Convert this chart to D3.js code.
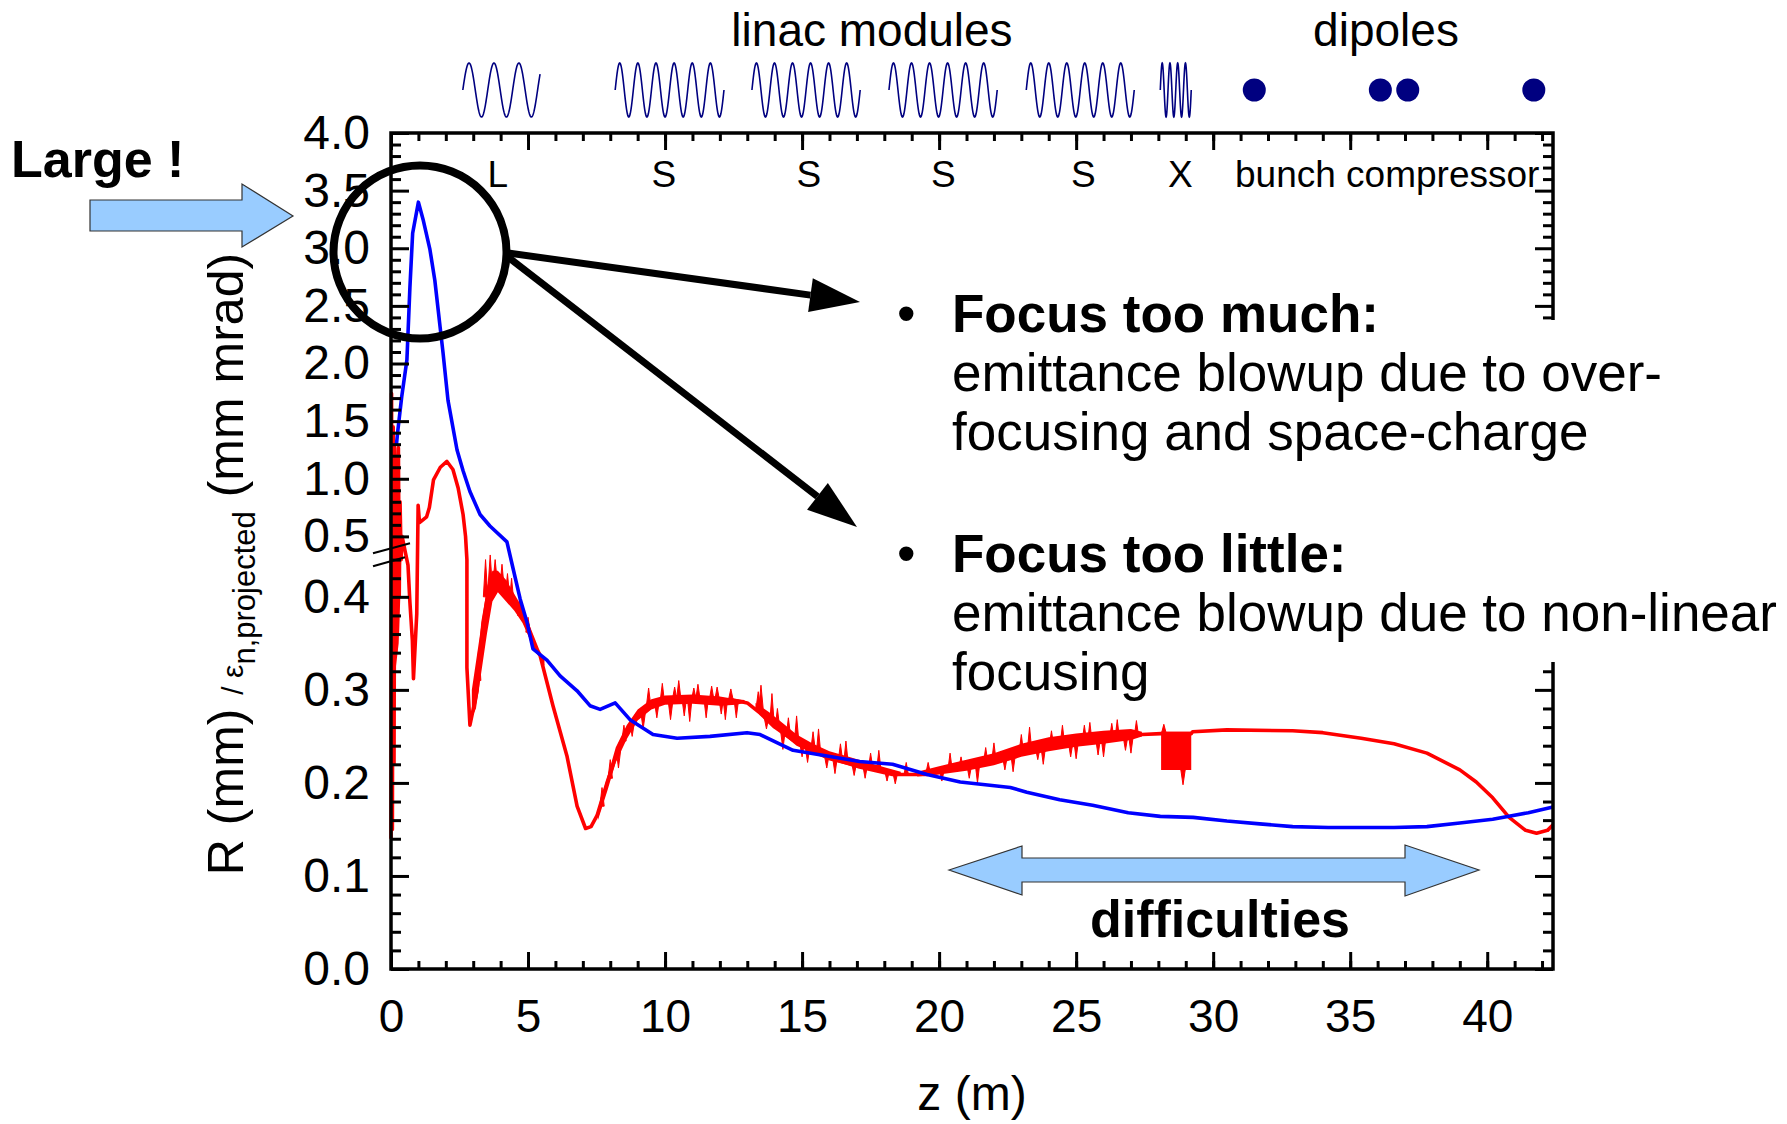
<!DOCTYPE html>
<html>
<head>
<meta charset="utf-8">
<script src="https://cdn.jsdelivr.net/npm/d3@7"></script>
<style>
  html, body { margin: 0; padding: 0; background: #fff; }
  svg { display: block; font-family: Arial, "Liberation Sans", sans-serif; }
</style>
</head>
<body>
<svg id="chart" width="1787" height="1124"></svg>
<script>
// ---- data -------------------------------------------------------------
// z positions (m) of the x ticks
const zMajorTicks = [0, 5, 10, 15, 20, 25, 30, 35, 40];
const zMinorTicks = d3.range(0, 43, 1);

// y ticks of the broken axis: lower part 0..0.45, upper part 0.5..4.0
const yMajorTicks = [0, 0.1, 0.2, 0.3, 0.4, 0.5, 1.0, 1.5, 2.0, 2.5, 3.0, 3.5, 4.0];
const yMinorTicks = [0.02,0.04,0.06,0.08,0.12,0.14,0.16,0.18,0.22,0.24,0.26,0.28,0.32,0.34,0.36,0.38,0.42,0.44,
                     0.6,0.7,0.8,0.9,1.1,1.2,1.3,1.4,1.6,1.7,1.8,1.9,2.1,2.2,2.3,2.4,2.6,2.7,2.8,2.9,3.1,3.2,3.3,3.4,3.6,3.7,3.8,3.9];

// beam size R (mm), blue  [z (m), value]
const blueR = [
  [0.20,1.30],[0.25,1.42],[0.39,1.71],[0.58,2.03],[0.69,2.66],[0.79,3.13],[1.00,3.40],[1.17,3.25],
  [1.42,2.99],[1.60,2.72],[1.79,2.32],[1.90,2.09],[2.08,1.68],[2.41,1.25],[2.63,1.07],[2.88,0.89],
  [3.25,0.69],[3.61,0.59],[4.23,0.459],[4.45,0.431],[4.71,0.398],[4.96,0.373],[5.18,0.344],[5.69,0.332],
  [6.17,0.315],[6.79,0.299],[7.26,0.283],[7.63,0.279],[8.18,0.286],[8.72,0.268],[9.56,0.252],[10.44,0.248],
  [11.64,0.250],[12.99,0.254],[13.47,0.252],[14.67,0.235],[17.10,0.223],[18.30,0.220],[19.56,0.209],
  [20.77,0.201],[22.60,0.195],[23.20,0.190],[24.40,0.182],[25.60,0.176],[26.90,0.168],[28.07,0.164],
  [29.27,0.163],[30.50,0.159],[31.70,0.156],[32.90,0.153],[34.20,0.152],[36.60,0.152],[37.80,0.153],
  [39.00,0.157],[40.20,0.161],[41.50,0.168],[42.40,0.174]
];

// projected normalised emittance (mm mrad), red  [z (m), value]
const redEmit = [
  [0.00,0.14],[0.02,1.74],[0.05,0.15],[0.08,1.45],[0.11,0.22],[0.14,1.20],[0.17,0.34],[0.20,1.00],
  [0.23,0.36],[0.27,1.27],[0.30,0.40],[0.33,0.80],[0.37,0.44],[0.40,0.50],[0.44,0.46],[0.62,0.434],
  [0.69,0.394],[0.78,0.353],[0.82,0.312],[0.94,0.382],[0.99,0.77],[1.04,0.62],[1.30,0.67],[1.40,0.75],
  [1.55,0.99],[1.80,1.10],[2.04,1.15],[2.26,1.08],[2.45,0.92],[2.63,0.69],[2.72,0.50],[2.77,0.44],
  [2.77,0.324],[2.88,0.262],[3.14,0.299],[3.36,0.373],[3.61,0.415],[3.98,0.418],[4.45,0.394],[4.96,0.373],
  [5.18,0.348],[5.44,0.337],[5.91,0.283],[6.42,0.229],[6.79,0.175],[7.10,0.151],[7.30,0.153],[7.52,0.165],
  [7.88,0.200],[8.36,0.242],[8.98,0.274],[9.80,0.287],[10.07,0.289],[11.30,0.290],[12.48,0.289],[13.00,0.286],
  [13.47,0.275],[14.00,0.260],[14.67,0.246],[15.90,0.228],[17.10,0.217],[18.30,0.209],[19.56,0.209],
  [20.77,0.216],[21.97,0.223],[23.20,0.235],[24.40,0.243],[25.60,0.245],[26.90,0.249],[27.40,0.252],
  [28.10,0.253],[29.20,0.253],[29.25,0.255],[30.50,0.257],[32.90,0.256],[34.00,0.254],[35.40,0.248],
  [36.60,0.242],[37.80,0.232],[39.00,0.214],[39.60,0.201],[40.20,0.184],[40.80,0.163],[41.40,0.149],
  [41.80,0.146],[42.20,0.149],[42.40,0.155]
];

// fast-oscillation envelope of the red trace  [z, low, high]
const redBand = [
  [0.00,0.14,1.60],[0.06,0.25,1.45],[0.12,0.31,1.35],[0.20,0.33,1.27],[0.28,0.35,0.95],[0.34,0.40,0.60],[0.37,0.44,0.50],
  null,
  [2.95,0.27,0.30],[3.10,0.28,0.33],[3.30,0.32,0.37],[3.50,0.36,0.41],[3.70,0.395,0.428],[3.90,0.405,0.428],
  [4.20,0.395,0.418],[4.50,0.385,0.403],[4.80,0.372,0.388],[5.10,0.352,0.366],[5.40,0.336,0.344],[5.60,0.326,0.332],
  null,
  [7.55,0.16,0.172],[7.90,0.192,0.207],[8.20,0.222,0.238],[8.60,0.247,0.262],[9.00,0.267,0.279],[9.50,0.279,0.290],
  [10.0,0.284,0.294],[11.0,0.285,0.295],[12.0,0.283,0.293],[12.6,0.284,0.290],[12.9,0.286,0.289],
  null,
  [13.3,0.278,0.286],[13.8,0.264,0.276],[14.3,0.252,0.264],[14.8,0.240,0.252],[15.4,0.232,0.242],[16.0,0.224,0.234],
  [16.7,0.219,0.228],[17.4,0.214,0.222],[18.1,0.210,0.216],[18.6,0.208,0.212],
  null,
  [19.2,0.207,0.212],[20.0,0.209,0.218],[21.0,0.213,0.225],[22.0,0.219,0.232],[23.0,0.228,0.242],[24.0,0.234,0.249],
  [25.0,0.239,0.253],[26.0,0.242,0.256],[27.0,0.246,0.258],[27.4,0.250,0.255],
  null,
  [28.10,0.214,0.255],[29.20,0.214,0.255]
];

// isolated spikes of the red trace  [z, base, tip]
const redSpikes = [
  [3.20,0.31,0.345],[3.45,0.40,0.44],[3.62,0.41,0.445],[3.80,0.415,0.44],[4.05,0.41,0.435],[4.25,0.40,0.425],
  [4.40,0.395,0.42],[4.70,0.38,0.40],[5.0,0.362,0.378],
  [7.7,0.175,0.195],[8.0,0.205,0.225],[8.3,0.235,0.216],[8.5,0.245,0.262],[8.8,0.265,0.25],[9.2,0.275,0.258],
  [9.4,0.283,0.302],[9.7,0.286,0.27],[9.9,0.287,0.307],[10.2,0.287,0.268],[10.35,0.29,0.303],[10.5,0.29,0.31],
  [10.7,0.29,0.272],[10.9,0.29,0.266],[11.05,0.29,0.302],[11.2,0.29,0.306],[11.5,0.29,0.27],[11.7,0.29,0.304],
  [11.9,0.29,0.303],[12.05,0.29,0.274],[12.2,0.29,0.268],[12.4,0.29,0.301],[12.6,0.289,0.27],
  [13.4,0.28,0.298],[13.5,0.28,0.305],[13.7,0.27,0.258],[13.9,0.265,0.296],[14.1,0.26,0.28],[14.3,0.255,0.236],
  [14.5,0.25,0.27],[14.8,0.245,0.272],[15.0,0.242,0.228],[15.2,0.238,0.222],[15.4,0.236,0.255],[15.6,0.232,0.258],
  [15.9,0.229,0.216],[16.2,0.226,0.21],[16.4,0.224,0.242],[16.6,0.222,0.245],[16.9,0.22,0.208],[17.3,0.218,0.205],
  [17.5,0.216,0.232],[17.8,0.214,0.235],[18.1,0.212,0.202],[18.4,0.21,0.199],[18.8,0.209,0.222],
  [19.6,0.211,0.222],[20.1,0.213,0.202],[20.4,0.214,0.232],[20.8,0.216,0.228],[21.1,0.218,0.205],[21.4,0.22,0.20],
  [21.7,0.222,0.238],[22.0,0.224,0.243],[22.4,0.227,0.214],[22.7,0.23,0.212],[23.0,0.233,0.252],[23.3,0.235,0.26],
  [23.6,0.237,0.225],[23.8,0.238,0.22],[24.1,0.24,0.256],[24.5,0.242,0.262],[24.8,0.243,0.228],[25.0,0.244,0.226],
  [25.3,0.245,0.262],[25.5,0.245,0.265],[25.8,0.246,0.23],[26.0,0.247,0.228],[26.3,0.248,0.264],[26.5,0.248,0.268],
  [26.8,0.249,0.235],[27.0,0.25,0.232],[27.2,0.25,0.267],[28.2,0.254,0.263],[28.9,0.214,0.198]
];

// beamline layout along z (m)
const linacModules = [
  { start: 2.62,  end: 5.44,  cycles: 3.1 },
  { start: 8.18,  end: 12.15, cycles: 6 },
  { start: 13.17, end: 17.12, cycles: 6 },
  { start: 18.17, end: 22.12, cycles: 6 },
  { start: 23.18, end: 27.12, cycles: 6 },
  { start: 28.07, end: 29.20, cycles: 4 }
];
const dipoleZ = [31.5, 36.1, 37.1, 41.7];
const sectionLabels = [
  { text: "L", z: 3.9 }, { text: "S", z: 9.96 }, { text: "S", z: 15.25 }, { text: "S", z: 20.15 },
  { text: "S", z: 25.26 }, { text: "X", z: 28.8 }, { text: "bunch compressor", z: 36.35 }
];

// ---- scales -----------------------------------------------------------
const svg = d3.select("#chart");
const x = d3.scaleLinear().domain([0, 42.4]).range([391, 1553]);
// piecewise scale: expanded lower part, compressed upper part
const y = d3.scaleLinear().domain([0, 0.46, 4.0]).range([969, 541, 133]);
const plotL = x.range()[0], plotR = x.range()[1], plotT = 133, plotB = 969;

const lightBlue = "#99ccff";
const navy = "#000080";

// ---- curves -----------------------------------------------------------
const lineGen = d3.line().x(d => x(d[0])).y(d => y(d[1]));

svg.append("path").datum(redBand)
  .attr("d", d3.area().defined(d => d).x(d => x(d[0])).y0(d => y(d[1])).y1(d => y(d[2])))
  .attr("fill", "#ff0000");

svg.append("g").selectAll("path").data(redSpikes).join("path")
  .attr("d", d => `M${x(d[0] - 0.08)},${y(d[1])}L${x(d[0])},${y(d[2])}L${x(d[0] + 0.08)},${y(d[1])}Z`)
  .attr("fill", "#ff0000").attr("stroke", "#ff0000").attr("stroke-width", 1);

svg.append("path").datum(redEmit).attr("d", lineGen)
  .attr("fill", "none").attr("stroke", "#ff0000").attr("stroke-width", 3.6).attr("stroke-linejoin", "round");

svg.append("path").datum(blueR).attr("d", lineGen)
  .attr("fill", "none").attr("stroke", "#0000ff").attr("stroke-width", 3.6).attr("stroke-linejoin", "round");

// ---- axes (ticks point inward) ----------------------------------------
const axW = 3.5;
function styleAxis(g) {
  g.select(".domain").remove();
  g.selectAll(".tick line").attr("stroke", "#000").attr("stroke-width", 3);
  g.selectAll(".tick text").attr("fill", "#000");
}
// bottom
svg.append("g").attr("transform", `translate(0,${plotB})`)
  .call(d3.axisBottom(x).tickValues(zMinorTicks).tickSize(-8).tickFormat(""))
  .call(styleAxis);
svg.append("g").attr("transform", `translate(0,${plotB})`)
  .call(d3.axisBottom(x).tickValues(zMajorTicks).tickSize(-17).tickPadding(30).tickFormat(d3.format("d")))
  .call(styleAxis)
  .selectAll("text").attr("font-size", 46).attr("font-family", "Arial, 'Liberation Sans', sans-serif");
// top
svg.append("g").attr("transform", `translate(0,${plotT})`)
  .call(d3.axisTop(x).tickValues(zMinorTicks).tickSize(-8).tickFormat(""))
  .call(styleAxis);
svg.append("g").attr("transform", `translate(0,${plotT})`)
  .call(d3.axisTop(x).tickValues(zMajorTicks).tickSize(-17).tickFormat(""))
  .call(styleAxis);
// left
svg.append("g").attr("transform", `translate(${plotL},0)`)
  .call(d3.axisLeft(y).tickValues(yMinorTicks).tickSize(-10).tickFormat(""))
  .call(styleAxis);
svg.append("g").attr("transform", `translate(${plotL},0)`)
  .call(d3.axisLeft(y).tickValues(yMajorTicks).tickSize(-18).tickPadding(21).tickFormat(d3.format(".1f")))
  .call(styleAxis)
  .selectAll("text").attr("font-size", 48).attr("font-family", "Arial, 'Liberation Sans', sans-serif");
// right
svg.append("g").attr("transform", `translate(${plotR},0)`)
  .call(d3.axisRight(y).tickValues(yMinorTicks).tickSize(-10).tickFormat(""))
  .call(styleAxis);
svg.append("g").attr("transform", `translate(${plotR},0)`)
  .call(d3.axisRight(y).tickValues(yMajorTicks).tickSize(-18).tickFormat(""))
  .call(styleAxis);
// frame
svg.append("rect").attr("x", plotL).attr("y", plotT).attr("width", plotR - plotL).attr("height", plotB - plotT)
  .attr("fill", "none").attr("stroke", "#000").attr("stroke-width", axW);

// axis break marks on the left axis
const brk = svg.append("g").attr("stroke", "#000").attr("stroke-width", 2.2);
brk.append("line").attr("x1", plotL - 18).attr("y1", y(0.45) + 3).attr("x2", plotL + 19).attr("y2", y(0.45) - 7);
brk.append("line").attr("x1", plotL - 18).attr("y1", y(0.45) + 16).attr("x2", plotL + 14).attr("y2", y(0.45) + 7);

// ---- section labels along the top axis --------------------------------
svg.append("g").selectAll("text").data(sectionLabels).join("text")
  .attr("x", d => x(d.z)).attr("y", 187).attr("text-anchor", "middle")
  .attr("font-size", 37).text(d => d.text);

// ---- beamline sketch above the plot -----------------------------------
const waveY = 90, waveA = 27;
linacModules.forEach(m => {
  const x0 = x(m.start), x1 = x(m.end);
  const n = 240;
  const pts = d3.range(n + 1).map(i => {
    const t = i / n;
    return [x0 + t * (x1 - x0), waveY - waveA * Math.sin(2 * Math.PI * m.cycles * t)];
  });
  svg.append("path").attr("d", d3.line()(pts)).attr("fill", "none")
    .attr("stroke", navy).attr("stroke-width", 1.6);
});
svg.append("g").selectAll("circle").data(dipoleZ).join("circle")
  .attr("cx", d => x(d)).attr("cy", waveY).attr("r", 11.5).attr("fill", navy);

svg.append("text").attr("x", 872).attr("y", 46).attr("text-anchor", "middle")
  .attr("font-size", 46).text("linac modules");
svg.append("text").attr("x", 1386).attr("y", 46).attr("text-anchor", "middle")
  .attr("font-size", 46).text("dipoles");

// ---- axis titles ------------------------------------------------------
svg.append("text").attr("x", 972).attr("y", 1110).attr("text-anchor", "middle")
  .attr("font-size", 48).text("z (m)");

const yt = svg.append("text").attr("transform", "translate(243,564) rotate(-90)")
  .attr("text-anchor", "middle").attr("font-size", 50);
yt.append("tspan").text("R (mm) ");
yt.append("tspan").attr("font-size", 30).text("/ ε");
yt.append("tspan").attr("font-size", 31).attr("dy", 12).text("n,projected");
yt.append("tspan").attr("dy", -12).text(" (mm mrad)");

// ---- annotations ------------------------------------------------------
// white box behind the explanatory text
svg.append("rect").attr("x", 880).attr("y", 320).attr("width", 907).attr("height", 342).attr("fill", "#fff");

const notes = svg.append("g").attr("font-size", 53);
notes.append("text").attr("x", 897).attr("y", 332).text("•");
notes.append("text").attr("x", 952).attr("y", 332).attr("font-weight", "bold").text("Focus too much:");
notes.append("text").attr("x", 952).attr("y", 391).text("emittance blowup due to over-");
notes.append("text").attr("x", 952).attr("y", 450).text("focusing and space-charge");
notes.append("text").attr("x", 897).attr("y", 572).text("•");
notes.append("text").attr("x", 952).attr("y", 572).attr("font-weight", "bold").text("Focus too little:");
notes.append("text").attr("x", 952).attr("y", 631).text("emittance blowup due to non-linear");
notes.append("text").attr("x", 952).attr("y", 690).text("focusing");

// circle around the peak and pointer arrows
svg.append("circle").attr("cx", 420).attr("cy", 252).attr("r", 86.5)
  .attr("fill", "none").attr("stroke", "#000").attr("stroke-width", 8);
function pointer(x1, y1, x2, y2) {
  const a = Math.atan2(y2 - y1, x2 - x1), L = 50, H = 17;
  const bx = x2 - L * Math.cos(a), by = y2 - L * Math.sin(a);
  svg.append("line").attr("x1", x1).attr("y1", y1).attr("x2", bx).attr("y2", by)
    .attr("stroke", "#000").attr("stroke-width", 7);
  svg.append("path")
    .attr("d", `M${x2},${y2}L${bx + H * Math.sin(a)},${by - H * Math.cos(a)}L${bx - H * Math.sin(a)},${by + H * Math.cos(a)}Z`)
    .attr("fill", "#000");
}
pointer(508, 253, 860, 302);
pointer(508, 257, 857, 527);

// "Large !" block arrow
svg.append("text").attr("x", 11).attr("y", 177).attr("font-size", 52).attr("font-weight", "bold").text("Large !");
svg.append("path")
  .attr("d", "M90,200L242,200L242,184L293,216L242,247L242,231L90,231Z")
  .attr("fill", lightBlue).attr("stroke", "#333").attr("stroke-width", 1.2);

// "difficulties" double arrow
svg.append("path")
  .attr("d", "M949,870L1022,846L1022,858L1405,858L1405,845L1479,870L1405,896L1405,882L1022,882L1022,895Z")
  .attr("fill", lightBlue).attr("stroke", "#333").attr("stroke-width", 1.2);
svg.append("text").attr("x", 1220).attr("y", 937).attr("text-anchor", "middle")
  .attr("font-size", 52).attr("font-weight", "bold").text("difficulties");
</script>
</body>
</html>
